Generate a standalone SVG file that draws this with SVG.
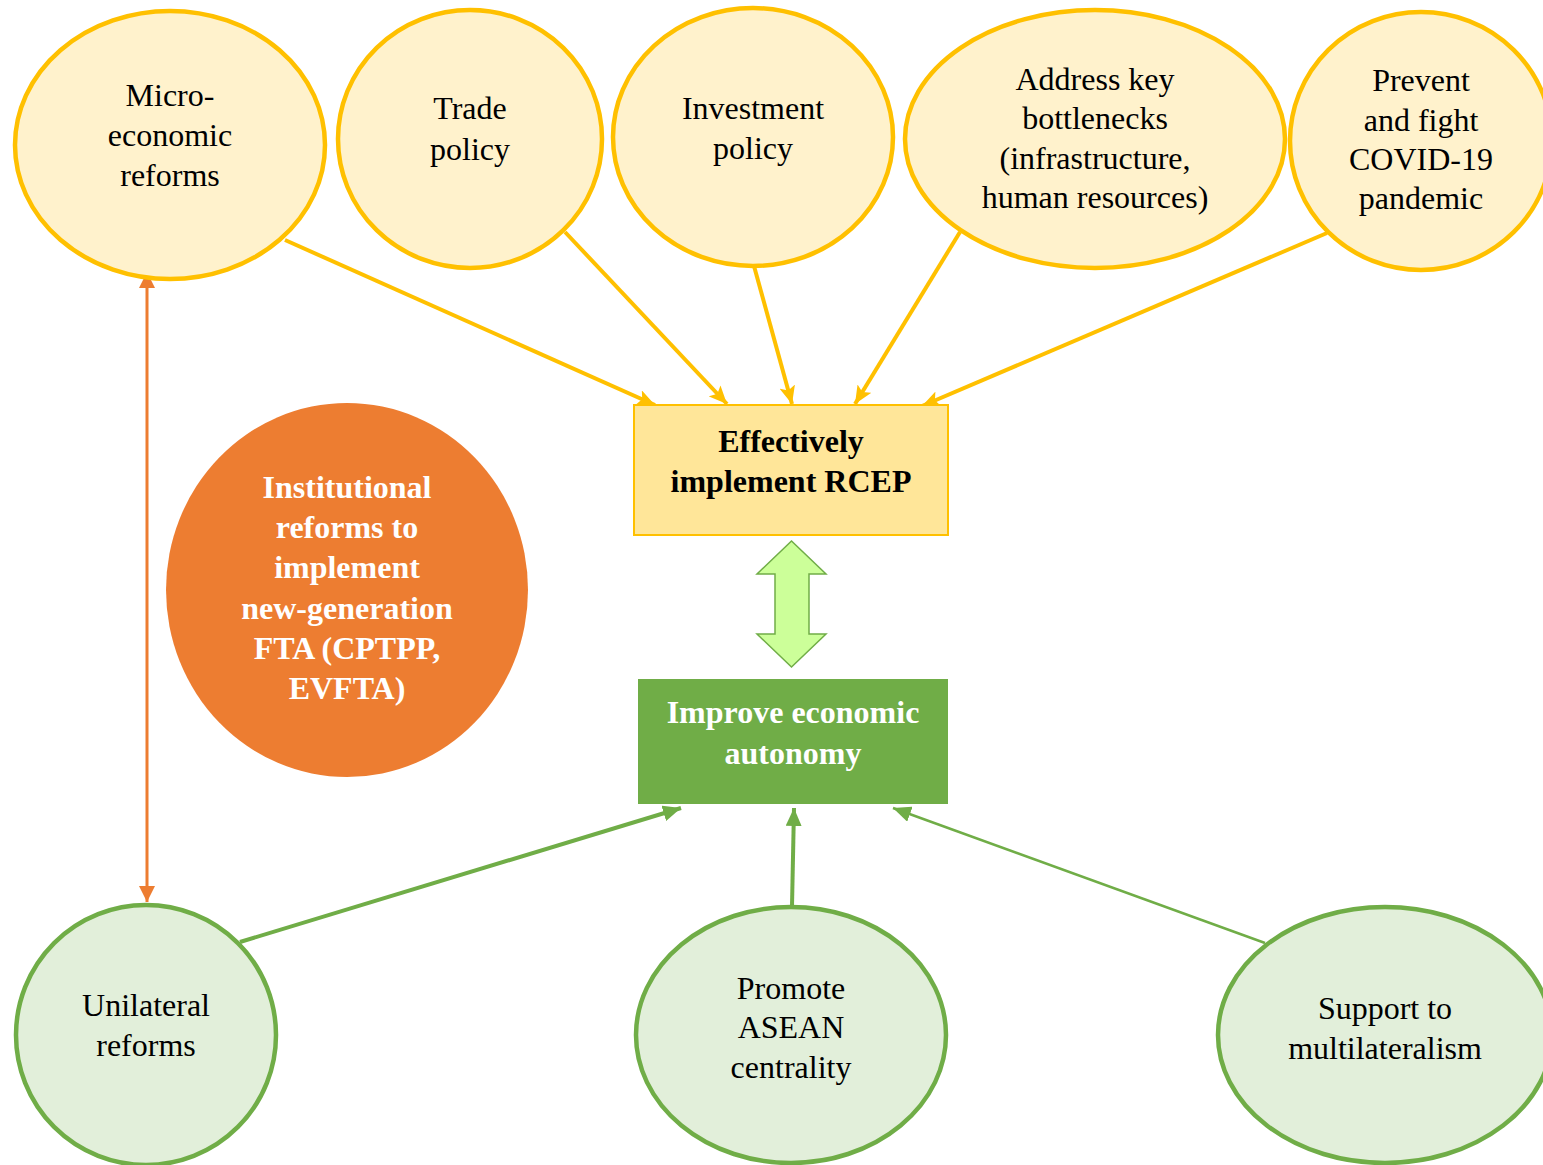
<svg xmlns="http://www.w3.org/2000/svg" width="1543" height="1165" viewBox="0 0 1543 1165">
<defs>
<style>
.t{font-family:"Liberation Serif","Times New Roman",serif;font-size:32px;fill:#000;text-anchor:middle}
.b{font-weight:bold}
.w{fill:#fff}
.ye{fill:#FFF2CC;stroke:#FFC000;stroke-width:4.5}
.ge{fill:#E2EFDA;stroke:#70AD47;stroke-width:4.5}
.ya{stroke:#FFC000;stroke-width:4;fill:none;marker-end:url(#ay)}
.ga{stroke:#70AD47;fill:none;marker-end:url(#ag)}
</style>
<marker id="ay" markerUnits="userSpaceOnUse" markerWidth="20" markerHeight="16" refX="18" refY="8" orient="auto"><path d="M0,0 L18,8 L0,16 L4,8 Z" fill="#FFC000"/></marker>
<marker id="ag" markerUnits="userSpaceOnUse" markerWidth="20" markerHeight="16" refX="18" refY="8" orient="auto"><path d="M0,0 L18,8 L0,16 Z" fill="#70AD47"/></marker>
<marker id="ao" markerUnits="userSpaceOnUse" markerWidth="18" markerHeight="16" refX="16" refY="8" orient="auto-start-reverse"><path d="M0,0 L16,8 L0,16 Z" fill="#ED7D31"/></marker>
</defs>
<rect width="1543" height="1165" fill="#fff"/>
<g id="connectors">
<line class="ya" x1="285" y1="240" x2="655" y2="405"/>
<line class="ya" x1="565" y1="232" x2="727" y2="404"/>
<line class="ya" x1="754" y1="266" x2="792" y2="404"/>
<line class="ya" x1="960" y1="232" x2="855" y2="404"/>
<line class="ya" x1="1327" y1="233" x2="922" y2="406"/>
<line x1="147" y1="272" x2="147" y2="902" stroke="#ED7D31" stroke-width="3" marker-start="url(#ao)" marker-end="url(#ao)"/>
<line class="ga" stroke-width="4" x1="240" y1="942" x2="681" y2="808"/>
<line class="ga" stroke-width="4" x1="792" y1="906" x2="794" y2="808"/>
<line class="ga" stroke-width="2.5" x1="1265" y1="943" x2="893" y2="808"/>
<path id="dbl" d="M791.5,541 L826,574 L809,574 L809,634 L826,634 L791.5,667 L757,634 L775,634 L775,574 L757,574 Z" fill="#CCFF99" stroke="#70AD47" stroke-width="1.5"/>
</g>
<g id="n1"><ellipse class="ye" cx="170" cy="145" rx="155" ry="134"/>
<text class="t" x="170" y="106">Micro-</text><text class="t" x="170" y="146">economic</text><text class="t" x="170" y="186">reforms</text></g>
<g id="n2"><ellipse class="ye" cx="470" cy="139" rx="132" ry="129"/>
<text class="t" x="470" y="119">Trade</text><text class="t" x="470" y="160">policy</text></g>
<g id="n3"><ellipse class="ye" cx="753" cy="137" rx="140" ry="129"/>
<text class="t" x="753" y="119">Investment</text><text class="t" x="753" y="159">policy</text></g>
<g id="n4"><ellipse class="ye" cx="1095" cy="139" rx="190" ry="129"/>
<text class="t" x="1095" y="90">Address key</text><text class="t" x="1095" y="129">bottlenecks</text><text class="t" x="1095" y="169">(infrastructure,</text><text class="t" x="1095" y="208">human resources)</text></g>
<g id="n5"><ellipse class="ye" cx="1421" cy="141" rx="131" ry="129"/>
<text class="t" x="1421" y="91">Prevent</text><text class="t" x="1421" y="131">and fight</text><text class="t" x="1421" y="170">COVID-19</text><text class="t" x="1421" y="209">pandemic</text></g>
<g id="rcep"><rect x="634" y="405" width="314" height="130" fill="#FFE699" stroke="#FFC000" stroke-width="2"/>
<text class="t b" x="791" y="452">Effectively</text><text class="t b" x="791" y="492">implement RCEP</text></g>
<g id="inst"><ellipse cx="347" cy="590" rx="181" ry="187" fill="#ED7D31"/>
<text class="t b w" x="347" y="498">Institutional</text><text class="t b w" x="347" y="538">reforms to</text><text class="t b w" x="347" y="578">implement</text><text class="t b w" x="347" y="619">new-generation</text><text class="t b w" x="347" y="659">FTA (CPTPP,</text><text class="t b w" x="347" y="699">EVFTA)</text></g>
<g id="auto"><rect x="638" y="679" width="310" height="125" fill="#70AD47"/>
<text class="t b w" x="793" y="723">Improve economic</text><text class="t b w" x="793" y="764">autonomy</text></g>
<g id="n6"><ellipse class="ge" cx="146" cy="1035" rx="130" ry="130"/>
<text class="t" x="146" y="1016">Unilateral</text><text class="t" x="146" y="1056">reforms</text></g>
<g id="n7"><ellipse class="ge" cx="791" cy="1035" rx="155" ry="128"/>
<text class="t" x="791" y="999">Promote</text><text class="t" x="791" y="1038">ASEAN</text><text class="t" x="791" y="1078">centrality</text></g>
<g id="n8"><ellipse class="ge" cx="1385" cy="1035" rx="167" ry="128"/>
<text class="t" x="1385" y="1019">Support to</text><text class="t" x="1385" y="1059">multilateralism</text></g>
</svg>
